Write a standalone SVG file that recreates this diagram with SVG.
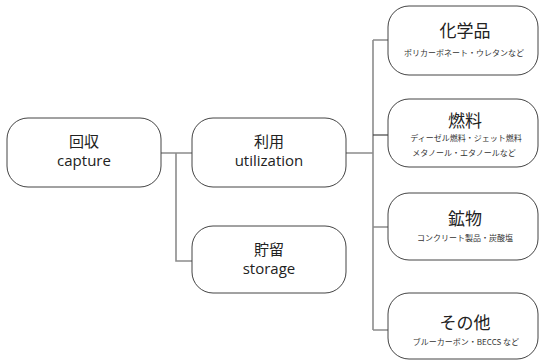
<svg xmlns="http://www.w3.org/2000/svg" width="541" height="360" viewBox="0 0 541 360">
<style>
.box{fill:#fff;stroke:#444;stroke-width:1}
.ln{fill:none;stroke:#8c8c8c;stroke-width:1.6}
.lbl{font-family:"Open Sans","Noto Sans CJK JP",sans-serif;font-size:15px;fill:#222;text-anchor:middle}
.ttl{font-family:"Noto Sans CJK JP",sans-serif;font-size:17px;fill:#222;text-anchor:middle}
.sub{font-family:"Noto Sans CJK JP",sans-serif;font-size:8px;fill:#333;text-anchor:middle}
</style>
<rect width="541" height="360" fill="#fff"/>
<g id="connectors">
<path class="ln" d="M161,153 H192 M176,153 V261 H192 M346,153 H373 M373,40 V330 M373,40 H388 M373,227 H388 M373,330 H388"/>
<path class="ln" style="stroke:#444;stroke-width:1.2" d="M373,135 H388"/>
</g>
<g id="capture">
<rect class="box" x="7" y="118" width="154" height="69" rx="21"/>
<text class="lbl" x="84" y="147">回収</text>
<text class="lbl" x="84" y="166">capture</text>
</g>
<g id="utilization">
<rect class="box" x="192" y="118" width="154" height="69" rx="21"/>
<text class="lbl" x="269" y="147">利用</text>
<text class="lbl" x="269" y="166">utilization</text>
</g>
<g id="storage">
<rect class="box" x="192" y="226" width="154" height="67" rx="21"/>
<text class="lbl" x="269" y="255">貯留</text>
<text class="lbl" x="269" y="274">storage</text>
</g>
<g id="chemicals">
<rect class="box" x="388" y="6" width="150" height="69" rx="21"/>
<text class="ttl" x="465" y="37">化学品</text>
<text class="sub" x="464" y="56">ポリカーボネート・ウレタンなど</text>
</g>
<g id="fuel">
<rect class="box" x="388" y="99" width="150" height="68" rx="21"/>
<text class="ttl" x="465" y="127">燃料</text>
<text class="sub" x="466" y="141">ディーゼル燃料・ジェット燃料</text>
<text class="sub" x="464" y="156">メタノール・エタノールなど</text>
</g>
<g id="minerals">
<rect class="box" x="388" y="193" width="150" height="67" rx="21"/>
<text class="ttl" x="465" y="225">鉱物</text>
<text class="sub" x="465" y="241">コンクリート製品・炭酸塩</text>
</g>
<g id="other">
<rect class="box" x="388" y="293" width="150" height="66" rx="21"/>
<text class="ttl" x="465" y="329">その他</text>
<text class="sub" x="466" y="345">ブルーカーボン・BECCS など</text>
</g>
</svg>
